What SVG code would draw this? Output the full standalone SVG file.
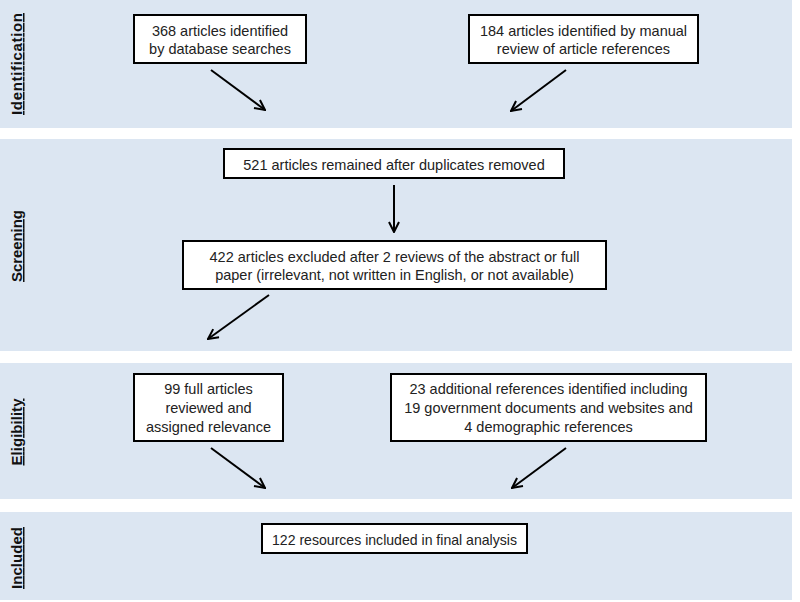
<svg xmlns="http://www.w3.org/2000/svg" width="800" height="602" viewBox="0 0 800 602">
<style>
.band{fill:#dce6f2}
.box{fill:#ffffff;stroke:#000000;stroke-width:2}
.t{font-family:"Liberation Sans",Arial,sans-serif;font-size:14.5px;fill:#222222;text-anchor:middle}
.lbl{font-family:"Liberation Sans",Arial,sans-serif;font-size:15px;font-weight:bold;fill:#111111;text-anchor:middle;text-decoration:underline}
.conn line{stroke:#000000;stroke-width:2;marker-end:url(#ah)}
</style>
<defs>
<marker id="ah" viewBox="0 0 12 12" refX="11" refY="6" markerWidth="12" markerHeight="12" markerUnits="userSpaceOnUse" orient="auto">
<path d="M1,1 L11,6 L1,11" fill="none" stroke="#000000" stroke-width="2"/>
</marker>
</defs>
<rect width="800" height="602" fill="#ffffff"/>
<g id="bands">
<rect class="band" x="0" y="0" width="792" height="128"/>
<rect class="band" x="0" y="139" width="792" height="212"/>
<rect class="band" x="0" y="363" width="792" height="136"/>
<rect class="band" x="0" y="512" width="792" height="88"/>
<text class="lbl" transform="translate(22,64) rotate(-90)" textLength="102">Identification</text>
<text class="lbl" transform="translate(22,246) rotate(-90)" textLength="72">Screening</text>
<text class="lbl" transform="translate(22,432) rotate(-90)" textLength="67">Eligibility</text>
<text class="lbl" transform="translate(22,558) rotate(-90)" textLength="62">Included</text>
</g>
<g id="n1">
<rect class="box" x="134" y="15" width="172" height="48"/>
<text class="t" x="220" y="36">368 articles identified</text>
<text class="t" x="220" y="54">by database searches</text>
</g>
<g id="n2">
<rect class="box" x="469" y="15" width="229" height="48"/>
<text class="t" x="583.5" y="36">184 articles identified by manual</text>
<text class="t" x="583.5" y="54">review of article references</text>
</g>
<g id="n3">
<rect class="box" x="224" y="149" width="340" height="29"/>
<text class="t" x="394" y="170">521 articles remained after duplicates removed</text>
</g>
<g id="n4">
<rect class="box" x="183" y="241" width="423" height="48"/>
<text class="t" x="394.5" y="262">422 articles excluded after 2 reviews of the abstract or full</text>
<text class="t" x="394.5" y="280">paper (irrelevant, not written in English, or not available)</text>
</g>
<g id="n5">
<rect class="box" x="134" y="374" width="149" height="67"/>
<text class="t" x="208.5" y="394">99 full articles</text>
<text class="t" x="208.5" y="413">reviewed and</text>
<text class="t" x="208.5" y="432">assigned relevance</text>
</g>
<g id="n6">
<rect class="box" x="391" y="374" width="315" height="67"/>
<text class="t" x="548.5" y="394">23 additional references identified including</text>
<text class="t" x="548.5" y="413">19 government documents and websites and</text>
<text class="t" x="548.5" y="432">4 demographic references</text>
</g>
<g id="n7">
<rect class="box" x="262" y="524" width="265" height="29"/>
<text class="t" x="394.5" y="545" textLength="245" lengthAdjust="spacingAndGlyphs">122 resources included in final analysis</text>
</g>
<g id="connectors" class="conn">
<line x1="211" y1="70" x2="265" y2="110"/>
<line x1="566" y1="70" x2="511" y2="111"/>
<line x1="394" y1="185" x2="394" y2="232"/>
<line x1="269" y1="295" x2="208" y2="339"/>
<line x1="211" y1="448" x2="265" y2="488"/>
<line x1="566" y1="448" x2="512" y2="488"/>
</g>
</svg>
